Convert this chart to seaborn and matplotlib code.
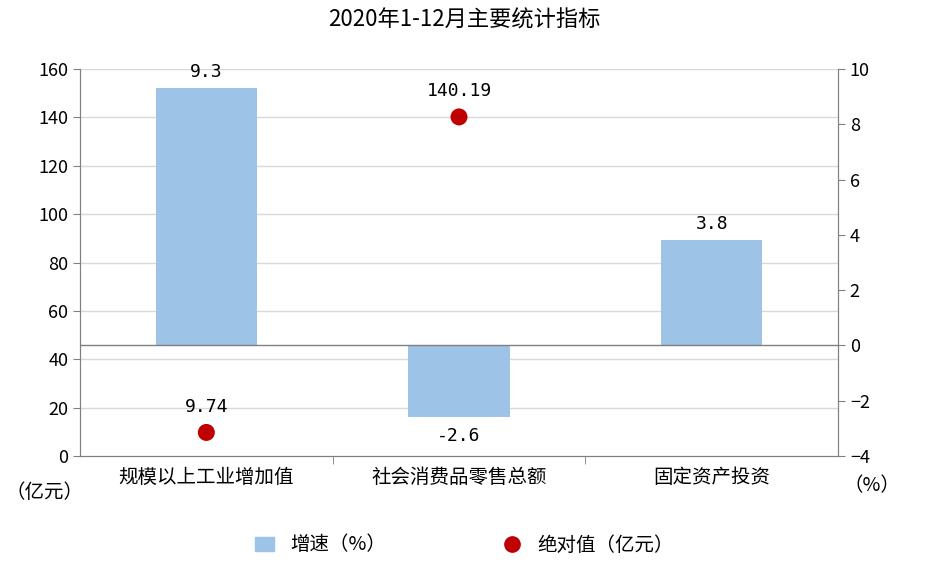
import matplotlib
matplotlib.use("Agg")
import matplotlib.pyplot as plt
import seaborn as sns
import numpy as np
import pandas as pd
from matplotlib.lines import Line2D
from matplotlib.patches import Patch

plt.rcParams["font.family"] = ["Noto Sans CJK SC", "DejaVu Sans"]

categories = ["规模以上工业增加值", "社会消费品零售总额", "固定资产投资"]
growth = [9.3, -2.6, 3.8]
absolute = [9.74, 140.19, np.nan]
growth_labels = ["9.3", "-2.6", "3.8"]
abs_labels = ["9.74", "140.19", ""]

df = pd.DataFrame({"cat": categories, "growth": growth, "abs": absolute})

fig = plt.figure(figsize=(9.29, 5.69), dpi=100)
ax1 = fig.add_axes([80/929, 1-456/569, 758/929, 387/569])
ax2 = ax1.twinx()

# gridlines at left-axis ticks, drawn in right-axis units behind bars
for v in range(20, 161, 20):
    ax2.axhline(-4 + v * 14 / 160, color="#d9d9d9", lw=1, zorder=0)

sns.barplot(data=df, x="cat", y="growth", ax=ax2, color="#9dc3e6", width=0.4, saturation=1, zorder=2)
ax2.set_ylim(-4, 10)
ax2.set_yticks(range(-4, 11, 2))
ax2.axhline(0, color="#808080", lw=1, zorder=3)
for i, (v, t) in enumerate(zip(growth, growth_labels)):
    ax2.text(i, v + (0.25 if v > 0 else -0.35), t, ha="center",
             va="bottom" if v > 0 else "top", fontsize=13, family="DejaVu Sans Mono")

ax1.set_zorder(ax2.get_zorder() + 1)
ax1.patch.set_visible(False)
sns.scatterplot(data=df, x="cat", y="abs", ax=ax1, color="#c00000", s=150, edgecolor="none", zorder=5)
ax1.set_ylim(0, 160)
ax1.set_yticks(range(0, 161, 20))
ax1.set_xlim(-0.5, 2.5)
for i, (v, t) in enumerate(zip(absolute, abs_labels)):
    if not np.isnan(v):
        ax1.text(i, v + 7, t, ha="center", va="bottom", fontsize=13, family="DejaVu Sans Mono")

ax2.set_xlim(-0.5, 2.5)
for a in (ax1, ax2):
    a.set_xlabel("")
    a.set_ylabel("")
    for s in a.spines.values():
        s.set_color("#808080")
    a.spines["top"].set_visible(False)
ax1.tick_params(axis="y", labelsize=13, length=5, color="#808080")
ax2.tick_params(axis="y", labelsize=13, length=5, color="#808080")
ax1.set_xticks([0, 1, 2])
ax1.set_xticklabels(categories, fontsize=14)
ax1.tick_params(axis="x", length=0, pad=8)
ax1.set_xticks([0.5, 1.5], minor=True)
ax1.tick_params(axis="x", which="minor", length=6, color="#808080")
ax2.tick_params(axis="x", length=0)

fig.text(45/929, 1-492/569, "（亿元）", ha="center", va="center", fontsize=14)
fig.text(872/929, 1-486/569, "（%）", ha="center", va="center", fontsize=14)
fig.text(0.5, 1-20/569, "2020年1-12月主要统计指标", ha="center", va="center", fontsize=16)

handles = [Patch(color="#9dc3e6", label="增速（%）"),
           Line2D([], [], marker="o", ls="", color="#c00000", markersize=11, label="绝对值（亿元）")]
fig.legend(handles=handles, loc="center", bbox_to_anchor=(0.5, 1-545/569), ncol=2,
           frameon=False, fontsize=14, columnspacing=6, handlelength=1)

fig.savefig("out.png", dpi=100)
